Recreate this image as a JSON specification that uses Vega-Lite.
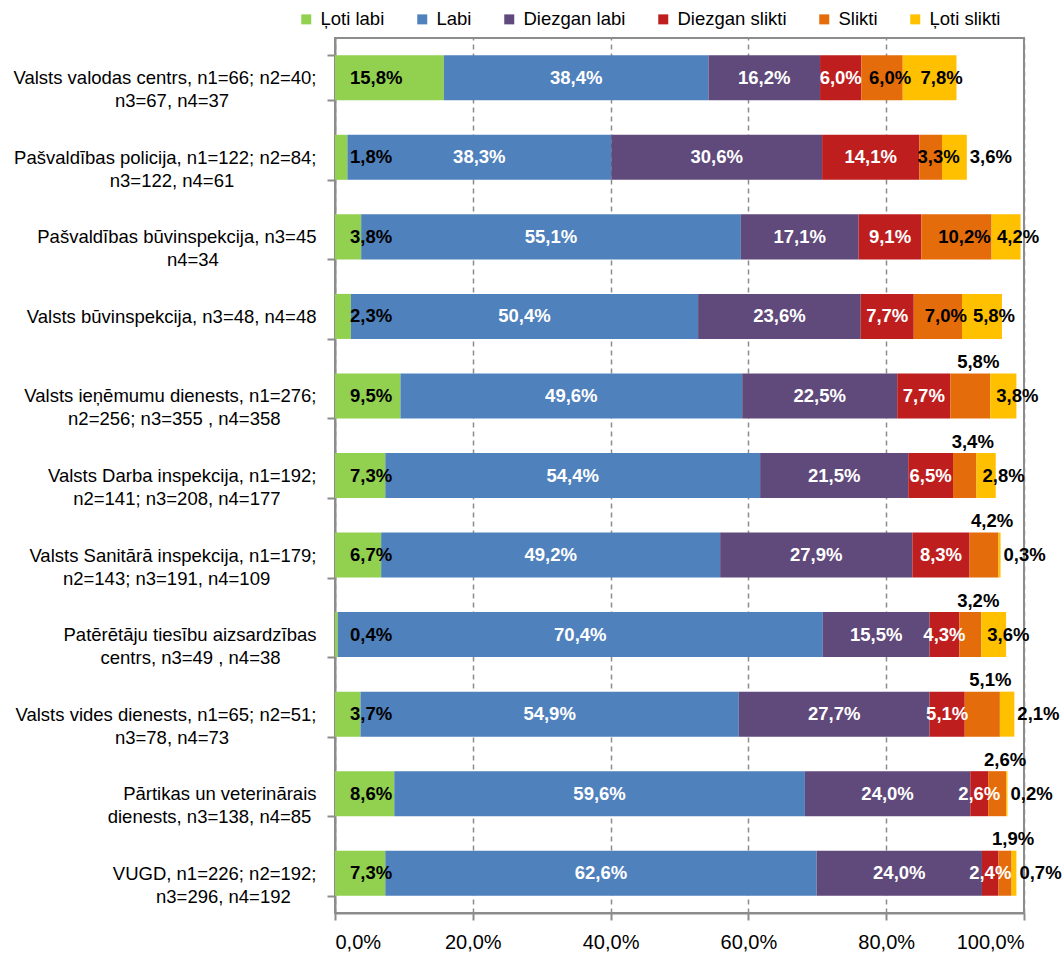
{
  "$schema": "https://vega.github.io/schema/vega-lite/v6.json",
  "width": 689,
  "height": 875,
  "padding": {"left": 12, "top": 10, "right": 5, "bottom": 5},
  "config": {
    "locale": {"number": {"decimal": ",", "thousands": " ", "grouping": [3], "currency": ["", " €"]}},
    "view": {"stroke": "#8c8c8c", "strokeWidth": 2},
    "font": "Liberation Sans"
  },
  "data": {"values": [
    {"org": "Valsts valodas centrs, n1=66; n2=40;|n3=67, n4=37", "cat": "Ļoti labi", "v": 0.158},
    {"org": "Valsts valodas centrs, n1=66; n2=40;|n3=67, n4=37", "cat": "Labi", "v": 0.384},
    {"org": "Valsts valodas centrs, n1=66; n2=40;|n3=67, n4=37", "cat": "Diezgan labi", "v": 0.162},
    {"org": "Valsts valodas centrs, n1=66; n2=40;|n3=67, n4=37", "cat": "Diezgan slikti", "v": 0.060},
    {"org": "Valsts valodas centrs, n1=66; n2=40;|n3=67, n4=37", "cat": "Slikti", "v": 0.060},
    {"org": "Valsts valodas centrs, n1=66; n2=40;|n3=67, n4=37", "cat": "Ļoti slikti", "v": 0.078},
    {"org": "Pašvaldības policija, n1=122; n2=84;|n3=122, n4=61", "cat": "Ļoti labi", "v": 0.018},
    {"org": "Pašvaldības policija, n1=122; n2=84;|n3=122, n4=61", "cat": "Labi", "v": 0.383},
    {"org": "Pašvaldības policija, n1=122; n2=84;|n3=122, n4=61", "cat": "Diezgan labi", "v": 0.306},
    {"org": "Pašvaldības policija, n1=122; n2=84;|n3=122, n4=61", "cat": "Diezgan slikti", "v": 0.141},
    {"org": "Pašvaldības policija, n1=122; n2=84;|n3=122, n4=61", "cat": "Slikti", "v": 0.033},
    {"org": "Pašvaldības policija, n1=122; n2=84;|n3=122, n4=61", "cat": "Ļoti slikti", "v": 0.036},
    {"org": "Pašvaldības būvinspekcija, n3=45|n4=34", "cat": "Ļoti labi", "v": 0.038},
    {"org": "Pašvaldības būvinspekcija, n3=45|n4=34", "cat": "Labi", "v": 0.551},
    {"org": "Pašvaldības būvinspekcija, n3=45|n4=34", "cat": "Diezgan labi", "v": 0.171},
    {"org": "Pašvaldības būvinspekcija, n3=45|n4=34", "cat": "Diezgan slikti", "v": 0.091},
    {"org": "Pašvaldības būvinspekcija, n3=45|n4=34", "cat": "Slikti", "v": 0.102},
    {"org": "Pašvaldības būvinspekcija, n3=45|n4=34", "cat": "Ļoti slikti", "v": 0.042},
    {"org": "Valsts būvinspekcija, n3=48, n4=48", "cat": "Ļoti labi", "v": 0.023},
    {"org": "Valsts būvinspekcija, n3=48, n4=48", "cat": "Labi", "v": 0.504},
    {"org": "Valsts būvinspekcija, n3=48, n4=48", "cat": "Diezgan labi", "v": 0.236},
    {"org": "Valsts būvinspekcija, n3=48, n4=48", "cat": "Diezgan slikti", "v": 0.077},
    {"org": "Valsts būvinspekcija, n3=48, n4=48", "cat": "Slikti", "v": 0.070},
    {"org": "Valsts būvinspekcija, n3=48, n4=48", "cat": "Ļoti slikti", "v": 0.058},
    {"org": "Valsts ieņēmumu dienests, n1=276;|n2=256; n3=355 , n4=358", "cat": "Ļoti labi", "v": 0.095},
    {"org": "Valsts ieņēmumu dienests, n1=276;|n2=256; n3=355 , n4=358", "cat": "Labi", "v": 0.496},
    {"org": "Valsts ieņēmumu dienests, n1=276;|n2=256; n3=355 , n4=358", "cat": "Diezgan labi", "v": 0.225},
    {"org": "Valsts ieņēmumu dienests, n1=276;|n2=256; n3=355 , n4=358", "cat": "Diezgan slikti", "v": 0.077},
    {"org": "Valsts ieņēmumu dienests, n1=276;|n2=256; n3=355 , n4=358", "cat": "Slikti", "v": 0.058},
    {"org": "Valsts ieņēmumu dienests, n1=276;|n2=256; n3=355 , n4=358", "cat": "Ļoti slikti", "v": 0.038},
    {"org": "Valsts Darba inspekcija, n1=192;|n2=141; n3=208, n4=177", "cat": "Ļoti labi", "v": 0.073},
    {"org": "Valsts Darba inspekcija, n1=192;|n2=141; n3=208, n4=177", "cat": "Labi", "v": 0.544},
    {"org": "Valsts Darba inspekcija, n1=192;|n2=141; n3=208, n4=177", "cat": "Diezgan labi", "v": 0.215},
    {"org": "Valsts Darba inspekcija, n1=192;|n2=141; n3=208, n4=177", "cat": "Diezgan slikti", "v": 0.065},
    {"org": "Valsts Darba inspekcija, n1=192;|n2=141; n3=208, n4=177", "cat": "Slikti", "v": 0.034},
    {"org": "Valsts Darba inspekcija, n1=192;|n2=141; n3=208, n4=177", "cat": "Ļoti slikti", "v": 0.028},
    {"org": "Valsts Sanitārā inspekcija, n1=179;|n2=143; n3=191, n4=109", "cat": "Ļoti labi", "v": 0.067},
    {"org": "Valsts Sanitārā inspekcija, n1=179;|n2=143; n3=191, n4=109", "cat": "Labi", "v": 0.492},
    {"org": "Valsts Sanitārā inspekcija, n1=179;|n2=143; n3=191, n4=109", "cat": "Diezgan labi", "v": 0.279},
    {"org": "Valsts Sanitārā inspekcija, n1=179;|n2=143; n3=191, n4=109", "cat": "Diezgan slikti", "v": 0.083},
    {"org": "Valsts Sanitārā inspekcija, n1=179;|n2=143; n3=191, n4=109", "cat": "Slikti", "v": 0.042},
    {"org": "Valsts Sanitārā inspekcija, n1=179;|n2=143; n3=191, n4=109", "cat": "Ļoti slikti", "v": 0.003},
    {"org": "Patērētāju tiesību aizsardzības|centrs, n3=49 , n4=38", "cat": "Ļoti labi", "v": 0.004},
    {"org": "Patērētāju tiesību aizsardzības|centrs, n3=49 , n4=38", "cat": "Labi", "v": 0.704},
    {"org": "Patērētāju tiesību aizsardzības|centrs, n3=49 , n4=38", "cat": "Diezgan labi", "v": 0.155},
    {"org": "Patērētāju tiesību aizsardzības|centrs, n3=49 , n4=38", "cat": "Diezgan slikti", "v": 0.043},
    {"org": "Patērētāju tiesību aizsardzības|centrs, n3=49 , n4=38", "cat": "Slikti", "v": 0.032},
    {"org": "Patērētāju tiesību aizsardzības|centrs, n3=49 , n4=38", "cat": "Ļoti slikti", "v": 0.036},
    {"org": "Valsts vides dienests, n1=65; n2=51;|n3=78, n4=73", "cat": "Ļoti labi", "v": 0.037},
    {"org": "Valsts vides dienests, n1=65; n2=51;|n3=78, n4=73", "cat": "Labi", "v": 0.549},
    {"org": "Valsts vides dienests, n1=65; n2=51;|n3=78, n4=73", "cat": "Diezgan labi", "v": 0.277},
    {"org": "Valsts vides dienests, n1=65; n2=51;|n3=78, n4=73", "cat": "Diezgan slikti", "v": 0.051},
    {"org": "Valsts vides dienests, n1=65; n2=51;|n3=78, n4=73", "cat": "Slikti", "v": 0.051},
    {"org": "Valsts vides dienests, n1=65; n2=51;|n3=78, n4=73", "cat": "Ļoti slikti", "v": 0.021},
    {"org": "Pārtikas un veterinārais|dienests, n3=138, n4=85", "cat": "Ļoti labi", "v": 0.086},
    {"org": "Pārtikas un veterinārais|dienests, n3=138, n4=85", "cat": "Labi", "v": 0.596},
    {"org": "Pārtikas un veterinārais|dienests, n3=138, n4=85", "cat": "Diezgan labi", "v": 0.240},
    {"org": "Pārtikas un veterinārais|dienests, n3=138, n4=85", "cat": "Diezgan slikti", "v": 0.026},
    {"org": "Pārtikas un veterinārais|dienests, n3=138, n4=85", "cat": "Slikti", "v": 0.026},
    {"org": "Pārtikas un veterinārais|dienests, n3=138, n4=85", "cat": "Ļoti slikti", "v": 0.002},
    {"org": "VUGD, n1=226; n2=192;|n3=296, n4=192", "cat": "Ļoti labi", "v": 0.073},
    {"org": "VUGD, n1=226; n2=192;|n3=296, n4=192", "cat": "Labi", "v": 0.626},
    {"org": "VUGD, n1=226; n2=192;|n3=296, n4=192", "cat": "Diezgan labi", "v": 0.240},
    {"org": "VUGD, n1=226; n2=192;|n3=296, n4=192", "cat": "Diezgan slikti", "v": 0.024},
    {"org": "VUGD, n1=226; n2=192;|n3=296, n4=192", "cat": "Slikti", "v": 0.019},
    {"org": "VUGD, n1=226; n2=192;|n3=296, n4=192", "cat": "Ļoti slikti", "v": 0.007}
  ]},
  "transform": [
    {"stack": "v", "groupby": ["org"], "as": ["x0", "x1"]},
    {"calculate": "(datum.x0 + datum.x1) / 2", "as": "xm"}
  ],
  "encoding": {
    "y": {
      "field": "org", "type": "nominal", "sort": null,
      "scale": {"paddingInner": 0.434, "paddingOuter": 0.217},
      "axis": {
        "title": null,
        "labelExpr": "length(split(datum.label, '|')) > 1 ? [split(datum.label, '|')[0], pad(split(datum.label, '|')[1], length(split(datum.label, '|')[1]) + max(0, round(0.7 * (length(split(datum.label, '|')[0]) - length(split(datum.label, '|')[1])))), '\u00a0') + '\u200b'] : datum.label",
        "labelAlign": "right", "labelBaseline": "middle",
        "labelFontSize": 18.5, "labelLineHeight": 23, "labelColor": "#000000",
        "labelLimit": 400, "labelPadding": 11,
        "tickBand": "extent", "tickSize": 8, "tickColor": "#8c8c8c", "tickWidth": 2,
        "domainColor": "#8c8c8c", "domainWidth": 2, "grid": false
      }
    }
  },
  "layer": [
    {
      "mark": {"type": "bar"},
      "encoding": {
        "x": {
          "field": "x0", "type": "quantitative",
          "scale": {"domain": [0, 1], "nice": false},
          "axis": {
            "title": null, "format": ".1%", "values": [0, 0.2, 0.4, 0.6, 0.8, 1],
            "grid": true, "gridDash": [5, 4], "gridColor": "#8c8c8c", "gridWidth": 1.5,
            "tickSize": 7, "tickColor": "#8c8c8c", "tickWidth": 2,
            "domainColor": "#8c8c8c", "domainWidth": 2,
            "labelFontSize": 20, "labelPadding": 12, "labelColor": "#000000"
          }
        },
        "x2": {"field": "x1"},
        "color": {
          "field": "cat", "type": "nominal",
          "scale": {
            "domain": ["Ļoti labi", "Labi", "Diezgan labi", "Diezgan slikti", "Slikti", "Ļoti slikti"],
            "range": ["#92D050", "#4F81BD", "#604A7B", "#BE1E1E", "#E46C0A", "#FFC000"]
          },
          "legend": {
            "title": null, "orient": "none", "legendX": -38, "legendY": -28,
            "direction": "horizontal", "symbolType": "square", "symbolSize": 100,
            "symbolStrokeWidth": 0, "labelFontSize": 18.5, "labelColor": "#000000",
            "columnPadding": 28, "labelOffset": 5
          }
        }
      }
    },
    {
      "transform": [{"filter": {"field": "cat", "oneOf": ["Labi", "Diezgan labi", "Diezgan slikti"]}}],
      "mark": {"type": "text", "fontWeight": "bold", "fontSize": 18.5, "baseline": "middle", "color": "#ffffff"},
      "encoding": {"x": {"field": "xm", "type": "quantitative"}, "text": {"field": "v", "type": "quantitative", "format": ".1%"}}
    },
    {
      "transform": [{"filter": {"field": "cat", "equal": "Ļoti labi"}}],
      "mark": {"type": "text", "fontWeight": "bold", "fontSize": 18.5, "baseline": "middle", "align": "left", "dx": 15, "color": "#000000"},
      "encoding": {"x": {"field": "x0", "type": "quantitative"}, "text": {"field": "v", "type": "quantitative", "format": ".1%"}}
    },
    {
      "transform": [{"filter": {"and": [{"field": "cat", "equal": "Slikti"}, {"field": "org", "oneOf": ["Valsts valodas centrs, n1=66; n2=40;|n3=67, n4=37", "Pašvaldības policija, n1=122; n2=84;|n3=122, n4=61", "Pašvaldības būvinspekcija, n3=45|n4=34", "Valsts būvinspekcija, n3=48, n4=48"]}]}}],
      "mark": {"type": "text", "fontWeight": "bold", "fontSize": 18.5, "baseline": "middle", "dx": 8, "color": "#000000"},
      "encoding": {"x": {"field": "xm", "type": "quantitative"}, "text": {"field": "v", "type": "quantitative", "format": ".1%"}}
    },
    {
      "transform": [{"filter": {"and": [{"field": "cat", "equal": "Slikti"}, {"not": {"field": "org", "oneOf": ["Valsts valodas centrs, n1=66; n2=40;|n3=67, n4=37", "Pašvaldības policija, n1=122; n2=84;|n3=122, n4=61", "Pašvaldības būvinspekcija, n3=45|n4=34", "Valsts būvinspekcija, n3=48, n4=48"]}}]}}],
      "mark": {"type": "text", "fontWeight": "bold", "fontSize": 18.5, "baseline": "middle", "dx": 8, "dy": -34, "color": "#000000"},
      "encoding": {"x": {"field": "xm", "type": "quantitative"}, "text": {"field": "v", "type": "quantitative", "format": ".1%"}}
    },
    {
      "transform": [{"filter": {"and": [{"field": "cat", "equal": "Ļoti slikti"}, {"field": "org", "oneOf": ["Valsts valodas centrs, n1=66; n2=40;|n3=67, n4=37", "Pašvaldības būvinspekcija, n3=45|n4=34", "Valsts būvinspekcija, n3=48, n4=48"]}]}}],
      "mark": {"type": "text", "fontWeight": "bold", "fontSize": 18.5, "baseline": "middle", "dx": 12, "color": "#000000"},
      "encoding": {"x": {"field": "xm", "type": "quantitative"}, "text": {"field": "v", "type": "quantitative", "format": ".1%"}}
    },
    {
      "transform": [{"filter": {"and": [{"field": "cat", "equal": "Ļoti slikti"}, {"field": "org", "oneOf": ["Valsts ieņēmumu dienests, n1=276;|n2=256; n3=355 , n4=358", "Valsts Darba inspekcija, n1=192;|n2=141; n3=208, n4=177", "Patērētāju tiesību aizsardzības|centrs, n3=49 , n4=38"]}]}}],
      "mark": {"type": "text", "fontWeight": "bold", "fontSize": 18.5, "baseline": "middle", "align": "left", "dx": 6, "color": "#000000"},
      "encoding": {"x": {"field": "x0", "type": "quantitative"}, "text": {"field": "v", "type": "quantitative", "format": ".1%"}}
    },
    {
      "transform": [{"filter": {"and": [{"field": "cat", "equal": "Ļoti slikti"}, {"field": "org", "oneOf": ["Pašvaldības policija, n1=122; n2=84;|n3=122, n4=61", "Valsts Sanitārā inspekcija, n1=179;|n2=143; n3=191, n4=109", "Valsts vides dienests, n1=65; n2=51;|n3=78, n4=73", "Pārtikas un veterinārais|dienests, n3=138, n4=85", "VUGD, n1=226; n2=192;|n3=296, n4=192"]}]}}],
      "mark": {"type": "text", "fontWeight": "bold", "fontSize": 18.5, "baseline": "middle", "align": "left", "dx": 3, "color": "#000000"},
      "encoding": {"x": {"field": "x1", "type": "quantitative"}, "text": {"field": "v", "type": "quantitative", "format": ".1%"}}
    }
  ]
}
